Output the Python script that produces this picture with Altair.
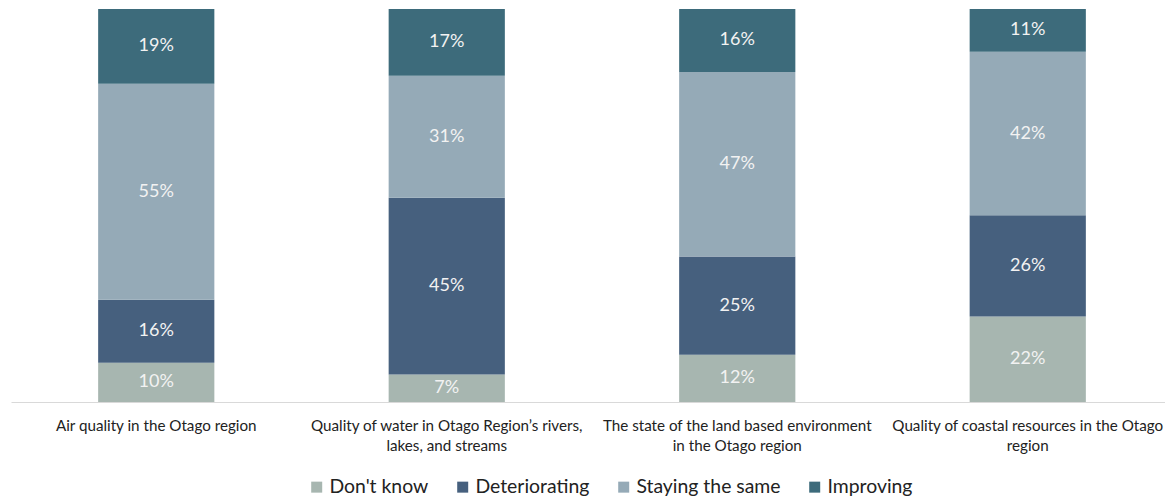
import altair as alt
import pandas as pd

categories = [
    "Air quality in the Otago region",
    "Quality of water in Otago Region’s rivers,|lakes, and streams",
    "The state of the land based environment|in the Otago region",
    "Quality of coastal resources in the Otago|region",
]
series = ["Don't know", "Deteriorating", "Staying the same", "Improving"]
dont_know = [10, 7, 12, 22]
deteriorating = [16, 45, 25, 26]
staying_same = [55, 31, 47, 42]
improving = [19, 17, 16, 11]
colors = ["#a7b6b0", "#46607e", "#95aab7", "#3d6b7b"]

rows = []
for i, cat in enumerate(categories):
    for j, (name, vals) in enumerate(zip(series, [dont_know, deteriorating, staying_same, improving])):
        rows.append({"category": cat, "series": name, "value": vals[i], "order": j,
                     "label": f"{vals[i]}%"})
df = pd.DataFrame(rows)

FONT = "Lato"

base = alt.Chart(df).transform_stack(
    stack="value",
    as_=["y0", "y1"],
    groupby=["category"],
    sort=[alt.SortField("order", order="ascending")],
    offset="normalize",
).transform_calculate(mid="(datum.y0 + datum.y1) / 2")

xenc = alt.X(
    "category:N",
    sort=categories,
    scale=alt.Scale(paddingInner=0.6, paddingOuter=0.3),
    axis=alt.Axis(
        title=None,
        labelAngle=0,
        ticks=False,
        domainColor="#d9d9d9",
        domainWidth=1,
        labelFont=FONT,
        labelFontSize=15.2,
        labelColor="#222222",
        labelPadding=16,
        labelBaseline="top",
        labelLineHeight=20,
        labelLimit=400,
        labelExpr="split(datum.label, '|')",
    ),
)

bars = base.mark_bar().encode(
    x=xenc,
    y=alt.Y("y0:Q", scale=alt.Scale(domain=[0, 1]), axis=None),
    y2="y1:Q",
    color=alt.Color(
        "series:N",
        sort=series,
        scale=alt.Scale(domain=series, range=colors),
        legend=alt.Legend(
            title=None,
            orient="none",
            direction="horizontal",
            legendX=296,
            legendY=468,
            padding=0,
            symbolType="square",
            symbolSize=121,
            symbolStrokeWidth=0,
            labelFont=FONT,
            labelFontSize=19.4,
            labelColor="#222222",
            labelOffset=3,
            columnPadding=24,
            labelLimit=300,
        ),
    ),
)

labels = base.mark_text(
    font=FONT, fontSize=18, color="#f2f2f2", baseline="middle", align="center"
).encode(
    x=alt.X("category:N", sort=categories),
    y=alt.Y("mid:Q"),
    text="label:N",
)

chart = alt.layer(bars, labels).properties(
    width=1162,
    height=393,
    autosize=alt.AutoSizeParams(type="none"),
    padding={"left": 3, "top": 1, "right": -8, "bottom": 95},
).configure_view(stroke=None)

chart.save("out.html", embed_options={"renderer": "svg", "actions": False})
